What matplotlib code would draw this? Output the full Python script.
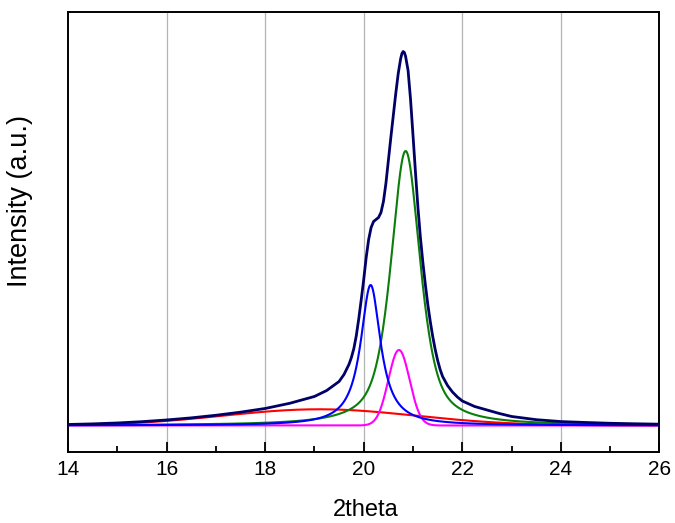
import numpy as np
import matplotlib
matplotlib.use("Agg")
import matplotlib.pyplot as plt

plt.rcParams['font.family'] = ['Liberation Sans', 'DejaVu Sans']

# Measured diffraction pattern (2theta in degrees, intensity in a.u.)
theta_obs = [14.0, 14.5, 15.0, 15.5, 16.0, 16.5, 17.0, 17.5, 18.0, 18.5,
             19.0, 19.25, 19.5, 19.6, 19.7, 19.75, 19.8, 19.85, 19.9, 19.95,
             20.0, 20.05, 20.1, 20.15, 20.2, 20.25, 20.3, 20.35, 20.4, 20.45,
             20.5, 20.55, 20.6, 20.65, 20.7, 20.75, 20.775, 20.8, 20.825, 20.85,
             20.9, 20.95, 21.0, 21.05, 21.1, 21.15, 21.2, 21.25, 21.3, 21.35,
             21.4, 21.45, 21.5, 21.55, 21.6, 21.7, 21.8, 21.9, 22.0, 22.25,
             22.5, 22.75, 23.0, 23.5, 24.0, 24.5, 25.0, 25.5, 26.0]
intensity_obs = [1.0, 1.6, 2.5, 3.8, 5.5, 7.6, 10.2, 13.3, 17, 22.2,
                 29, 35, 44, 51, 61, 68, 77, 90, 107, 126,
                 146, 168, 186, 198, 204, 206, 208, 213, 224, 242,
                 265, 288, 310, 332, 352, 367, 372, 374, 373, 369,
                 355, 326, 290, 253, 218, 188, 163, 141, 121, 104,
                 89, 76, 65, 56, 49, 40, 33.5, 28.5, 24.5, 19,
                 15.5, 12, 9, 5.8, 3.9, 3.0, 2.2, 1.7, 1.3]

# Fitted peak components (centre, height, width)
red_center, red_height, red_sigma = 19.1, 16.2, 1.95            # broad hump, Gaussian
blue_center, blue_height, blue_gamma = 20.14, 140.5, 0.245      # Lorentzian
green_center, green_height, green_hwhm, green_eta = 20.85, 274.5, 0.355, 0.65  # pseudo-Voigt
magenta_center, magenta_height, magenta_sigma = 20.715, 75.5, 0.215  # Gaussian

x_ticks = [14, 16, 18, 20, 22, 24, 26]
grid_positions = [16, 18, 20, 22, 24]

two_theta = np.linspace(14, 26, 2400)


def gauss(x, c, h, s):
    return h * np.exp(-(x - c) ** 2 / (2 * s ** 2))


def lorentz(x, c, h, g):
    return h / (1 + ((x - c) / g) ** 2)


def pseudo_voigt(x, c, h, w, eta):
    u = ((x - c) / w) ** 2
    return h * (eta / (1 + u) + (1 - eta) * np.exp(-np.log(2) * u))


red = gauss(two_theta, red_center, red_height, red_sigma)
blue = lorentz(two_theta, blue_center, blue_height, blue_gamma)
green = pseudo_voigt(two_theta, green_center, green_height, green_hwhm, green_eta)
magenta = gauss(two_theta, magenta_center, magenta_height, magenta_sigma)

fig = plt.figure(figsize=(6.75, 5.23), dpi=100)
ax = fig.add_axes([0.1007, 0.1358, 0.8763, 0.8412])

for gx in grid_positions:
    ax.axvline(gx, color='#b4b4b4', lw=0.9, zorder=0)

ax.plot(two_theta, red, color='#ff0000', lw=1.5, zorder=2)
ax.plot(two_theta, magenta, color='#ff00ff', lw=1.5, zorder=2)
ax.plot(two_theta, green, color='#0a7d0a', lw=1.5, zorder=3)
ax.plot(two_theta, blue, color='#0000ff', lw=1.5, zorder=3)
ax.plot(theta_obs, intensity_obs, color='#000066', lw=2.0, zorder=4,
        solid_joinstyle='round')

ax.set_xlim(14, 26)
ax.set_ylim(-26.5, 413.5)
ax.set_xticks(x_ticks)
ax.set_xticks(np.arange(15, 26, 2), minor=True)
ax.set_yticks([])
ax.tick_params(axis='x', which='major', direction='in', length=7, width=1.3,
               labelsize=15, pad=6)
ax.tick_params(axis='x', which='minor', direction='in', length=4, width=1.3)
for sp in ax.spines.values():
    sp.set_linewidth(1.4)

ax.set_xlabel('2theta', fontsize=17, va='top')
ax.xaxis.set_label_coords(0.503, -0.108)
ax.set_ylabel('Intensity (a.u.)', fontsize=19.5)
ax.yaxis.set_label_coords(-0.059, 0.57)

fig.savefig('out.png', dpi=100)
